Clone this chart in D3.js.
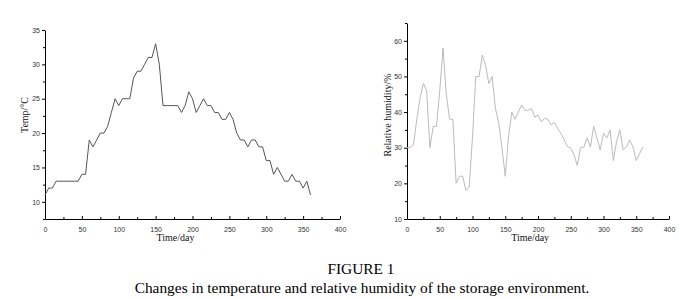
<!DOCTYPE html>
<html>
<head>
<meta charset="utf-8">
<script src="https://cdn.jsdelivr.net/npm/d3@7"></script>
<style>
  body { margin: 0; background: #fff; }
  .tick text { font-family: "Liberation Sans", Arial, sans-serif; font-size: 7px; fill: #333; }
  .axisTitle { font-family: "Liberation Serif", "Times New Roman", serif; font-size: 10px; fill: #111; }
  .caption { font-family: "Liberation Serif", "Times New Roman", serif; font-size: 15.4px; fill: #000; }
</style>
</head>
<body>
<div id="container"></div>
<script>
// sampling days (every 5 days)
let days = d3.range(0, 361, 5);

// temperature, degC
let temp = [11, 12, 12, 13, 13, 13, 13, 13, 13, 13,
  14, 14, 19, 18, 19, 20, 20, 21, 23, 25,
  24, 25, 25, 25, 28, 29, 29, 30, 31, 31,
  33, 30, 24, 24, 24, 24, 24, 23, 24, 26,
  25, 23, 24, 25, 24, 24, 23, 23, 22, 22,
  23, 22, 20, 19, 19, 18, 19, 19, 18, 18,
  16, 16, 14, 15, 14, 13, 13, 14, 13, 13,
  12, 13, 11];

// relative humidity, %
let humidity = [30, 30, 31, 38, 44, 48, 46, 30, 36, 36,
  46, 58, 45, 38, 38, 20, 22, 22, 18, 19,
  33, 50, 50, 56, 53, 48, 50, 41, 37, 30,
  22, 33, 40, 38, 40, 42, 40.5, 40.5, 41, 38.6,
  39.2, 37.3, 38.2, 38, 36.4, 37.1, 35.5, 34, 32.2, 30.3,
  29.9, 28, 25, 30, 30.2, 32.7, 30.2, 36, 32.7, 29.4,
  34, 32.7, 35, 26.4, 31.8, 35, 29.4, 30.2, 32.2, 30.2,
  26.4, 28.3, 30.2];

let xTicks = d3.range(0, 401, 50);
let tempTicks = [10, 15, 20, 25, 30, 35];
let humTicks = [10, 20, 30, 40, 50, 60];

let w = 679;
let h = 299;

let viz = d3.select("#container")
  .append("svg")
    .attr("width", w)
    .attr("height", h)
;

function drawPanel(opt){
  let xScale = d3.scaleLinear().domain([0, 400]).range([opt.x0, opt.x1]);
  let yScale = d3.scaleLinear().domain(opt.yDomain).range([opt.y0, opt.y1]);

  let g = viz.append("g");

  // minor ticks
  let xMinor = d3.range(25, 400, 50);
  g.append("g")
    .attr("transform", "translate(0," + opt.y0 + ")")
    .call(d3.axisBottom(xScale).tickValues(xMinor).tickSize(-2).tickFormat(""))
    .call(a => a.select(".domain").remove());
  g.append("g")
    .attr("transform", "translate(" + opt.x0 + ",0)")
    .call(d3.axisLeft(yScale).tickValues(opt.yMinor).tickSize(2).tickFormat(""))
    .call(a => a.select(".domain").remove());

  // x axis
  g.append("g")
    .attr("transform", "translate(0," + opt.y0 + ")")
    .call(d3.axisBottom(xScale).tickValues(xTicks).tickSize(-3).tickPadding(8).tickSizeOuter(0));
  // y axis
  g.append("g")
    .attr("transform", "translate(" + opt.x0 + ",0)")
    .call(d3.axisLeft(yScale).tickValues(opt.yTicks).tickSize(3).tickPadding(2).tickSizeOuter(0));

  g.selectAll(".domain").attr("stroke", "#000");

  // line
  let line = d3.line()
    .x((d, i) => xScale(days[i]))
    .y(d => yScale(d));

  g.append("path")
    .datum(opt.values)
    .attr("fill", "none")
    .attr("stroke", opt.color)
    .attr("stroke-width", 1)
    .attr("d", line);

  // titles
  g.append("text")
    .attr("class", "axisTitle")
    .attr("x", xScale(opt.xTitleAt))
    .attr("y", opt.y0 + 22)
    .attr("text-anchor", "middle")
    .text("Time/day");

  g.append("text")
    .attr("class", "axisTitle")
    .attr("transform", "translate(" + opt.yTitleX + "," + opt.yTitleY + ") rotate(-90)")
    .attr("text-anchor", "middle")
    .text(opt.yTitle);
}

drawPanel({
  x0: 45, x1: 340, y0: 219, y1: 30,
  yDomain: [7.5, 35],
  yTicks: tempTicks,
  yMinor: [7.5, 12.5, 17.5, 22.5, 27.5, 32.5],
  values: temp,
  color: "#555",
  xTitleAt: 177,
  yTitle: "Temp/\u00B0C",
  yTitleX: 28, yTitleY: 115
});

drawPanel({
  x0: 407, x1: 669, y0: 219, y1: 23,
  yDomain: [10, 65],
  yTicks: humTicks,
  yMinor: [15, 25, 35, 45, 55, 65],
  values: humidity,
  color: "#bbb",
  xTitleAt: 188,
  yTitle: "Relative humidity/%",
  yTitleX: 391, yTitleY: 115
});

viz.append("text")
  .attr("class", "caption")
  .attr("x", 361)
  .attr("y", 274)
  .attr("text-anchor", "middle")
  .text("FIGURE 1");

viz.append("text")
  .attr("class", "caption")
  .attr("x", 362)
  .attr("y", 293)
  .attr("text-anchor", "middle")
  .text("Changes in temperature and relative humidity of the storage environment.");
</script>
</body>
</html>
